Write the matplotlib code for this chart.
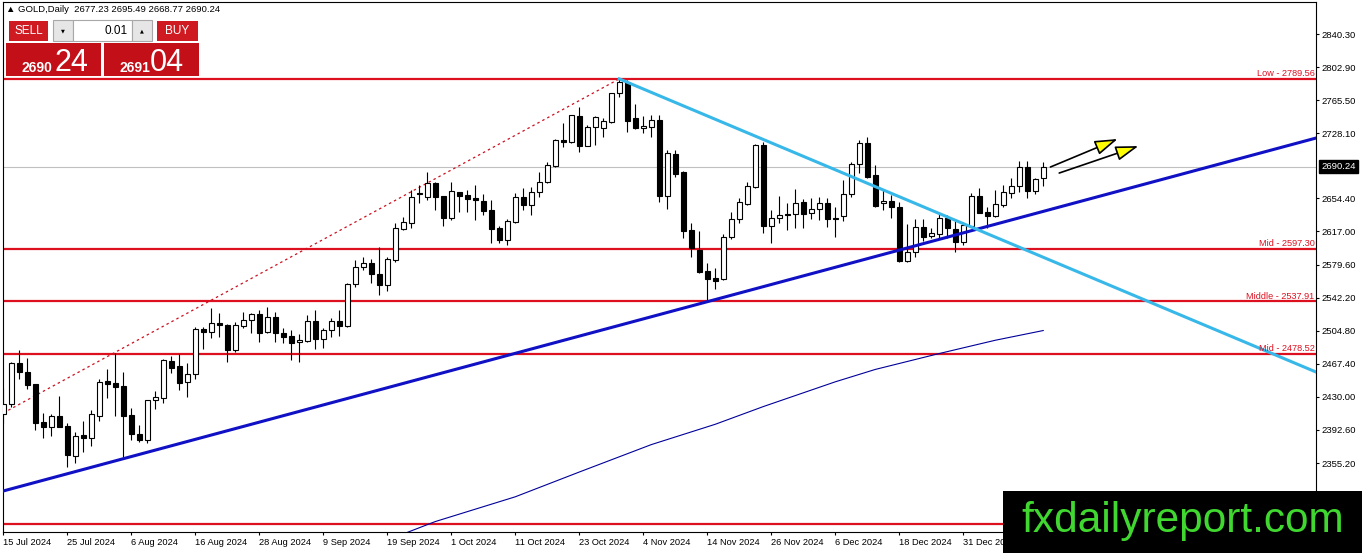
import numpy as np
import pandas as pd
import matplotlib
matplotlib.use("Agg")
import matplotlib.pyplot as plt
from matplotlib.patches import Rectangle
from matplotlib.transforms import blended_transform_factory

plt.rcParams['font.family'] = ['Liberation Sans', 'DejaVu Sans']

# daily OHLC, 15 Jul 2024 .. 15 Jan 2025
opens = [2410.6, 2421.9, 2468.6, 2458.1, 2444.2, 2401.2, 2395.9, 2408.0, 2396.7, 2363.1,
         2386.9, 2383.1, 2408.7, 2447.9, 2445.3, 2441.9, 2409.2, 2388.4, 2381.2, 2426.1,
         2429.1, 2470.6, 2464.6, 2446.5, 2455.5, 2507.1, 2503.0, 2513.5, 2511.6, 2483.0,
         2510.5, 2516.6, 2523.7, 2503.7, 2520.6, 2502.6, 2498.5, 2491.7, 2493.5, 2515.8,
         2495.8, 2505.3, 2515.4, 2510.5, 2557.3, 2577.2, 2581.0, 2568.9, 2556.5, 2584.8,
         2620.1, 2626.9, 2660.2, 2656.3, 2671.5, 2657.1, 2632.6, 2661.3, 2658.2, 2655.2,
         2651.5, 2641.3, 2620.9, 2607.0, 2628.1, 2656.0, 2646.9, 2661.3, 2672.6, 2691.0,
         2720.4, 2718.5, 2747.6, 2714.0, 2734.8, 2733.7, 2741.1, 2773.2, 2786.4, 2745.0,
         2733.7, 2735.5, 2743.1, 2657.5, 2704.6, 2684.6, 2618.7, 2596.1, 2572.3, 2564.4,
         2563.3, 2611.1, 2630.8, 2648.1, 2667.6, 2714.8, 2623.5, 2631.9, 2636.8, 2636.8,
         2650.0, 2637.6, 2642.1, 2648.9, 2632.6, 2634.5, 2659.0, 2693.0, 2716.7, 2680.9,
         2648.9, 2651.5, 2645.0, 2584.0, 2593.5, 2621.7, 2612.2, 2614.2, 2631.9, 2619.5,
         2604.8, 2623.5, 2657.1, 2638.7, 2634.8, 2646.9, 2660.2, 2668.8, 2689.6, 2662.8,
         2677.23]
highs = [2440.0, 2469.4, 2483.0, 2473.6, 2445.0, 2411.4, 2410.6, 2431.0, 2400.1, 2390.3,
         2402.7, 2415.1, 2449.9, 2461.2, 2479.3, 2458.5, 2417.7, 2398.2, 2426.5, 2436.6,
         2472.5, 2476.5, 2478.1, 2468.6, 2508.7, 2508.7, 2530.1, 2524.5, 2512.0, 2515.0,
         2526.3, 2525.2, 2528.2, 2531.9, 2526.3, 2507.5, 2505.6, 2500.7, 2522.6, 2528.2,
         2507.5, 2518.8, 2528.2, 2558.4, 2584.8, 2588.5, 2585.5, 2599.1, 2588.5, 2626.3,
         2633.7, 2663.9, 2669.6, 2683.9, 2673.3, 2657.5, 2672.6, 2662.0, 2663.9, 2669.6,
         2659.4, 2652.6, 2623.5, 2631.1, 2660.8, 2666.5, 2667.6, 2683.9, 2695.2, 2721.2,
         2739.3, 2748.7, 2758.1, 2737.4, 2747.6, 2745.0, 2773.9, 2789.56, 2788.3, 2761.1,
         2747.6, 2748.7, 2748.7, 2709.1, 2709.1, 2685.7, 2626.3, 2617.5, 2581.0, 2575.4,
         2614.2, 2638.7, 2654.5, 2672.9, 2715.6, 2718.5, 2641.3, 2657.1, 2649.5, 2665.0,
         2653.4, 2654.5, 2655.6, 2654.5, 2645.0, 2675.2, 2695.9, 2720.4, 2724.2, 2692.2,
         2663.9, 2658.2, 2650.7, 2625.1, 2630.8, 2631.1, 2620.6, 2637.6, 2635.6, 2628.9,
         2628.1, 2660.2, 2665.8, 2645.0, 2663.9, 2669.6, 2677.8, 2697.0, 2697.0, 2677.1,
         2695.49]
lows = [2400.4, 2418.5, 2449.9, 2439.2, 2392.5, 2383.1, 2386.1, 2395.6, 2351.0, 2354.9,
        2368.0, 2374.8, 2402.7, 2429.1, 2408.7, 2362.3, 2381.2, 2378.6, 2378.2, 2415.9,
        2422.7, 2456.6, 2437.8, 2430.2, 2449.9, 2484.1, 2496.2, 2498.0, 2469.1, 2481.1,
        2507.5, 2501.9, 2492.4, 2501.9, 2492.4, 2491.2, 2471.7, 2469.8, 2492.4, 2483.8,
        2484.9, 2498.0, 2498.8, 2509.3, 2554.6, 2573.4, 2559.1, 2545.2, 2550.0, 2582.8,
        2618.7, 2620.6, 2648.9, 2653.0, 2641.3, 2623.5, 2630.0, 2639.4, 2639.4, 2630.0,
        2635.6, 2603.6, 2603.6, 2601.7, 2626.9, 2641.3, 2635.6, 2656.3, 2671.5, 2689.6,
        2712.9, 2716.7, 2707.2, 2713.7, 2714.8, 2724.2, 2740.0, 2769.4, 2729.8, 2732.5,
        2728.0, 2723.5, 2650.7, 2642.1, 2678.9, 2609.3, 2588.5, 2569.7, 2537.6, 2552.0,
        2562.1, 2608.5, 2626.9, 2646.9, 2665.8, 2614.9, 2603.6, 2626.3, 2618.7, 2620.6,
        2620.6, 2630.8, 2630.0, 2622.4, 2611.1, 2628.3, 2656.3, 2682.8, 2677.8, 2645.0,
        2641.3, 2631.9, 2582.8, 2582.2, 2588.5, 2606.6, 2609.3, 2609.3, 2609.3, 2594.1,
        2601.7, 2622.4, 2637.6, 2620.6, 2633.7, 2645.0, 2654.5, 2662.0, 2655.2, 2659.0,
        2668.77]
closes = [2421.9, 2468.3, 2457.8, 2443.8, 2400.1, 2395.6, 2408.0, 2396.3, 2363.9, 2385.7,
          2383.1, 2410.6, 2446.5, 2444.9, 2441.5, 2408.7, 2388.4, 2381.2, 2426.1, 2429.5,
          2471.7, 2463.0, 2446.0, 2455.9, 2506.7, 2503.0, 2513.5, 2510.9, 2483.0, 2511.3,
          2516.6, 2523.7, 2502.6, 2520.6, 2501.9, 2498.0, 2491.2, 2494.3, 2515.4, 2495.8,
          2505.3, 2515.4, 2510.5, 2557.6, 2576.5, 2581.0, 2568.6, 2556.5, 2585.5, 2620.6,
          2627.7, 2655.6, 2659.0, 2671.5, 2656.3, 2632.6, 2662.8, 2657.5, 2654.1, 2652.3,
          2640.5, 2620.1, 2607.0, 2628.9, 2656.0, 2646.9, 2661.3, 2672.6, 2691.8, 2720.4,
          2718.5, 2748.4, 2714.0, 2734.8, 2746.1, 2741.9, 2773.2, 2786.4, 2742.3, 2734.3,
          2736.3, 2743.1, 2657.5, 2705.4, 2682.0, 2617.9, 2598.7, 2570.8, 2563.3, 2561.3,
          2610.4, 2631.1, 2650.0, 2668.1, 2714.8, 2623.5, 2632.6, 2635.6, 2635.3, 2648.9,
          2637.1, 2642.1, 2648.9, 2630.8, 2630.8, 2659.0, 2693.0, 2716.7, 2678.9, 2646.2,
          2651.8, 2645.0, 2583.6, 2594.1, 2621.7, 2611.1, 2615.3, 2631.9, 2620.6, 2604.8,
          2624.3, 2657.1, 2638.2, 2634.8, 2647.7, 2661.3, 2668.8, 2689.6, 2662.8, 2676.3,
          2690.24]

# moving average (thin navy line), sampled at a few bars
ma_idx = [50, 54, 64, 72, 81, 89, 95, 104, 109, 117, 124, 130]
ma_val = [2275, 2289, 2317, 2345, 2376, 2399, 2419, 2447, 2461, 2479, 2494, 2505]

# horizontal levels
levels = [2789.56, 2597.30, 2537.91, 2478.52, 2286.26]
level_labels = ["Low - 2789.56", "Mid - 2597.30", "Middle - 2537.91", "Mid - 2478.52", ""]

# trend lines (bar index, price)
blue_x, blue_y = [0, 88], [2323.6, 2537.6]
cyan_x, cyan_y = [77, 164.1], [2789.56, 2458.1]
dot_x, dot_y = [0, 77], [2411.8, 2789.56]
# arrows: (start, tip)
arrows = [((130.9, 2689.9), (139.3, 2721.6)),
          ((132.0, 2683.1), (141.9, 2713.6))]

ytick_vals = [2840.30, 2802.90, 2765.50, 2728.10, 2654.40, 2617.00, 2579.60,
              2542.20, 2504.80, 2467.40, 2430.00, 2392.60, 2355.20, 2317.80]
last_price = 2690.24

dates = pd.bdate_range('2024-07-15', '2025-01-15')
dates = dates[~dates.isin(pd.to_datetime(['2024-12-25', '2025-01-01']))]

W, H = 1362, 553
fig = plt.figure(figsize=(W / 100, H / 100), dpi=100)
ax = fig.add_axes([3 / W, 21 / H, 1313 / W, 530 / H])

o = np.array(opens); h = np.array(highs); l = np.array(lows); c = np.array(closes)
x = np.arange(len(o))
up = c >= o

ax.axhline(last_price, color='#c0c0c0', lw=0.8, zorder=1)
for lv in levels:
    ax.axhline(lv, color='#dd1020', lw=1.6, zorder=2)
for lv, lab in zip(levels, level_labels):
    if lab:
        ax.text(163.9, lv + 1.0, lab, color='#dd1020', fontsize=6.6, ha='right', va='bottom', zorder=6)

ax.plot(dot_x, dot_y, color='#cc1020', lw=0.9, ls=(0, (2, 2.5)), zorder=2)
ax.plot(ma_idx, ma_val, color='#000099', lw=0.8, zorder=2)

ax.vlines(x, l, h, color='black', lw=0.8, zorder=3)
ax.bar(x, np.abs(c - o), bottom=np.minimum(o, c), width=0.62,
       color=np.where(up, 'white', 'black'), edgecolor='black', lw=0.8, zorder=4)

ax.axline((blue_x[0], blue_y[0]), (blue_x[1], blue_y[1]), color='#1010c4', lw=2.2, zorder=5)
ax.plot(cyan_x, cyan_y, color='#38b8e8', lw=2.2, zorder=5)

for start, tip in arrows:
    ax.annotate('', xy=tip, xytext=start,
                arrowprops=dict(arrowstyle='-|>,head_length=1.4,head_width=0.45',
                                fc='#ffff00', ec='black', lw=1.2, shrinkA=0, shrinkB=0),
                zorder=6)

ax.set_xlim(-0.04, 164.1)
ax.set_ylim(2277.2, 2876.5)

ax.yaxis.tick_right()
ax.set_yticks(ytick_vals)
ax.set_yticklabels([f"{v:.2f}" for v in ytick_vals])
ax.tick_params(axis='y', length=2.5, width=0.8, pad=1.5, labelsize=6.8)

xt = list(range(0, len(dates), 8))
ax.set_xticks(xt)
ax.set_xticklabels([f"{dates[i].day} {dates[i]:%b %Y}" for i in xt], ha='left')
ax.tick_params(axis='x', length=2.5, width=0.8, pad=1.5, labelsize=6.7)
for s in ax.spines.values():
    s.set_linewidth(0.8)

tr = blended_transform_factory(ax.transAxes, ax.transData)
ax.text(1 + 5 / 1313, last_price, f"{last_price:.2f}", transform=tr, color='white',
        fontsize=6.8, ha='left', va='center', clip_on=False,
        bbox=dict(fc='black', ec='black', pad=1.6))

# header line
fig.text(6 / W, 1 - 10 / H, "\u25b2 GOLD,Daily  2677.23 2695.49 2668.77 2690.24",
         fontsize=6.8, va='center', ha='left')


def box(x0, y0, x1, y1, fc, ec='none', z=10):
    fig.patches.append(Rectangle((x0 / W, 1 - y1 / H), (x1 - x0) / W, (y1 - y0) / H,
                                 transform=fig.transFigure, fc=fc, ec=ec, lw=0.8, zorder=z))


def ftxt(xp, yp, s, **kw):
    fig.text(xp / W, 1 - yp / H, s, zorder=12, **kw)


# trade panel
red_btn = '#d01a22'
red_box = '#c20f18'
box(9, 21, 48, 41, red_btn)
box(157, 21, 198, 41, red_btn)
box(53, 20, 73, 41, '#e6e6e6', '#a8a8a8')
box(73, 20, 132, 41, 'white', '#a8a8a8')
box(132, 20, 152, 41, '#e6e6e6', '#a8a8a8')
box(6, 43, 101, 76, red_box)
box(104, 43, 199, 76, red_box)
ftxt(28.5, 31, "SELL", color='white', fontsize=8.5, ha='center', va='center')
ftxt(177.5, 31, "BUY", color='white', fontsize=8.5, ha='center', va='center')
ftxt(63, 30.5, "\u25bc", color='black', fontsize=3.6, ha='center', va='center', family='DejaVu Sans')
ftxt(142, 30.5, "\u25b2", color='black', fontsize=3.6, ha='center', va='center', family='DejaVu Sans')
ftxt(128, 30.5, "0.01", color='black', fontsize=8.5, ha='right', va='center')
ftxt(21, 72, "2690", color='white', fontsize=10, fontweight='bold', ha='left', va='baseline')
ftxt(55, 71, "24", color='white', fontsize=22, ha='left', va='baseline')
ftxt(119, 72, "2691", color='white', fontsize=10, fontweight='bold', ha='left', va='baseline')
ftxt(150, 71, "04", color='white', fontsize=22, ha='left', va='baseline')

# watermark
box(1003, 491, 1362, 553, 'black', z=20)
ftxt(1183, 521, "fxdailyreport.com", color='#40d830', fontsize=30.5, ha='center', va='center')
fig.texts[-1].set_zorder(21)

fig.savefig('out.png', dpi=100)
